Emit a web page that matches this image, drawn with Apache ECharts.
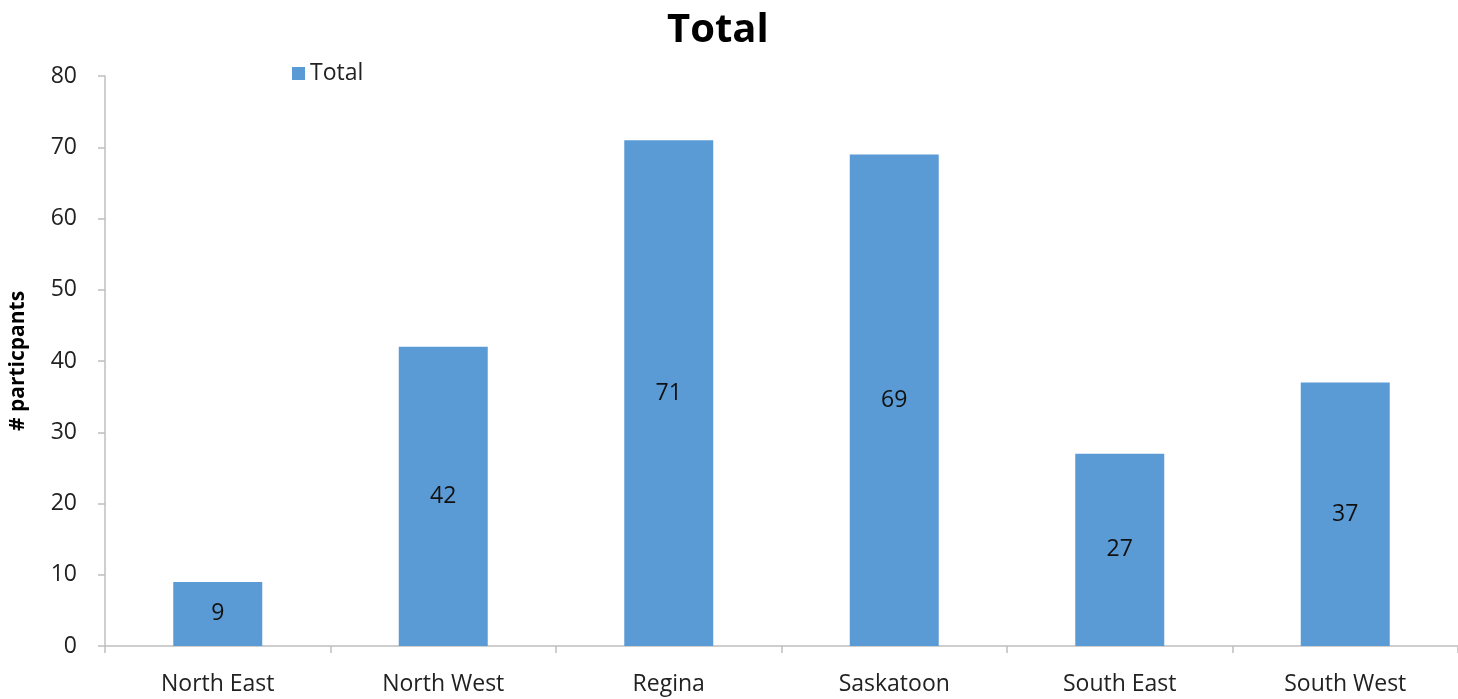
<!DOCTYPE html>
<html>
<head>
<meta charset="utf-8">
<script src="https://cdn.jsdelivr.net/npm/echarts@6/dist/echarts.min.js"></script>
<style>html,body{margin:0;padding:0;background:#fff;}#c{width:1458px;height:699px;}</style>
</head>
<body>
<div id="c"></div>
<script>
const categories = ["North East", "North West", "Regina", "Saskatoon", "South East", "South West"];
const totalValues = [9, 42, 71, 69, 27, 37];
const yTicks = { min: 0, max: 80, interval: 10 };

const chart = echarts.init(document.getElementById('c'));
const font = '"Open Sans", "Noto Sans", sans-serif';
chart.setOption({
  animation: false,
  title: {
    text: 'Total', left: 662, top: 6,
    textStyle: { fontFamily: font, fontSize: 40, fontWeight: 'bold', color: '#000' }
  },
  legend: {
    data: ['Total'], left: 287, top: 57, itemWidth: 13, itemHeight: 13, itemGap: 8,
    icon: 'rect',
    textStyle: { fontFamily: font, fontSize: 23, color: '#222' }
  },
  grid: { left: 104, right: -3, top: 76, bottom: 53 },
  xAxis: {
    type: 'category', data: categories,
    axisLine: { lineStyle: { color: '#bfbfbf', width: 1.5 } },
    axisTick: { show: true, length: 7, lineStyle: { color: '#bfbfbf', width: 1.5 } },
    axisLabel: { fontFamily: font, fontSize: 23, color: '#222', margin: 27 }
  },
  yAxis: {
    type: 'value', min: yTicks.min, max: yTicks.max, interval: yTicks.interval,
    name: '# particpants', nameLocation: 'middle', nameGap: 76,
    nameTextStyle: { fontFamily: font, fontSize: 21, fontWeight: 'bold', color: '#000' },
    axisLine: { show: true, lineStyle: { color: '#bfbfbf', width: 1.5 } },
    axisTick: { show: true, length: 7, lineStyle: { color: '#bfbfbf', width: 1.5 } },
    splitLine: { show: false },
    axisLabel: { fontFamily: font, fontSize: 23, color: '#222', margin: 28 }
  },
  series: [{
    name: 'Total', type: 'bar', data: totalValues, barWidth: 89,
    itemStyle: { color: '#5b9bd5' },
    label: { show: true, position: 'inside', fontFamily: font, fontSize: 23, color: '#111' }
  }]
});
</script>
</body>
</html>
